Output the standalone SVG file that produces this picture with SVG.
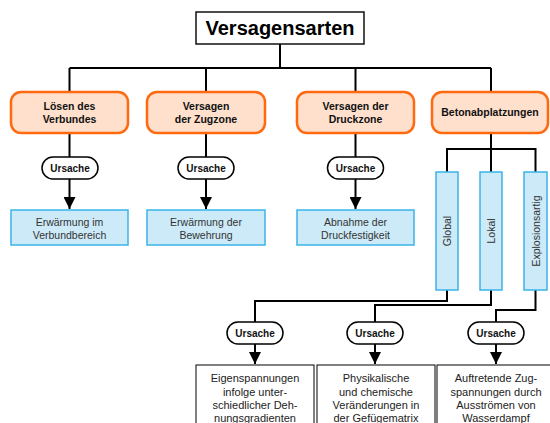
<svg xmlns="http://www.w3.org/2000/svg" width="550" height="423" viewBox="0 0 550 423">
<defs>
<style>
text{font-family:"Liberation Sans",Arial,sans-serif;text-anchor:middle}
.title{font-size:20px;font-weight:bold;fill:#000}
.cat rect{fill:#fee0cc;stroke:#ff6a10;stroke-width:2.5}
.cat text{font-size:10.5px;font-weight:bold;fill:#111}
.pill rect{fill:#fff;stroke:#000;stroke-width:1.5}
.pill text{font-size:10px;font-weight:bold;fill:#111}
.blue rect{fill:#cdeaf8;stroke:#3ab4e8;stroke-width:1.5}
.blue text{font-size:10.5px;fill:#333}
.res rect{fill:#fff;stroke:#000;stroke-width:1}
.res text{font-size:11px;fill:#222}
.con{fill:none;stroke:#000;stroke-width:2}
</style>
<marker id="ah" markerUnits="userSpaceOnUse" markerWidth="12" markerHeight="12" viewBox="0 0 12 12" refX="12" refY="6" orient="auto">
<path d="M0,0 L12,6 L0,12 Z" fill="#000"/>
</marker>
</defs>

<g id="connectors">
<path class="con" d="M280,44 V68 M69.5,68 H491 M69.5,68 V92 M206,68 V92 M355.5,68 V92 M491,68 V92"/>
<path class="con" d="M69.5,133 V157 M206,133 V157 M355.5,133 V157"/>
<path class="con" d="M69.5,179 V209" marker-end="url(#ah)"/>
<path class="con" d="M206,179 V209" marker-end="url(#ah)"/>
<path class="con" d="M355.5,179 V209" marker-end="url(#ah)"/>
<path class="con" d="M491,133 V149 M447,172 V149 H535.5 V172 M491,149 V172"/>
<path class="con" d="M447,290 V301 H255 V322 M491,290 V305 H375 V322 M535.5,290 V310 H496 V322"/>
<path class="con" d="M255,344 V364" marker-end="url(#ah)"/>
<path class="con" d="M375,344 V364" marker-end="url(#ah)"/>
<path class="con" d="M496,344 V364" marker-end="url(#ah)"/>
</g>

<g id="title">
<rect x="196" y="12" width="168" height="32" fill="#fff" stroke="#000" stroke-width="1.4"/>
<text class="title" x="280" y="35">Versagensarten</text>
</g>

<g id="cat1" class="cat">
<rect x="11" y="92" width="117" height="41" rx="10"/>
<text x="69.5" y="110">Lösen des</text>
<text x="69.5" y="123">Verbundes</text>
</g>
<g id="cat2" class="cat">
<rect x="147" y="92" width="118" height="41" rx="10"/>
<text x="206" y="110">Versagen</text>
<text x="206" y="123">der Zugzone</text>
</g>
<g id="cat3" class="cat">
<rect x="297" y="92" width="117" height="41" rx="10"/>
<text x="355.5" y="110">Versagen der</text>
<text x="355.5" y="123">Druckzone</text>
</g>
<g id="cat4" class="cat">
<rect x="432" y="92" width="116" height="41" rx="10"/>
<text x="490" y="116">Betonabplatzungen</text>
</g>

<g id="pill1" class="pill"><rect x="42" y="157" width="56" height="22" rx="11"/><text x="70" y="172">Ursache</text></g>
<g id="pill2" class="pill"><rect x="178" y="157" width="56" height="22" rx="11"/><text x="206" y="172">Ursache</text></g>
<g id="pill3" class="pill"><rect x="327.5" y="157" width="56" height="22" rx="11"/><text x="355.5" y="172">Ursache</text></g>

<g id="cause1" class="blue">
<rect x="11" y="210" width="117" height="35"/>
<text x="69.5" y="226">Erwärmung im</text>
<text x="69.5" y="239">Verbundbereich</text>
</g>
<g id="cause2" class="blue">
<rect x="147" y="210" width="118" height="35"/>
<text x="206" y="226">Erwärmung der</text>
<text x="206" y="239">Bewehrung</text>
</g>
<g id="cause3" class="blue">
<rect x="297" y="210" width="117" height="35"/>
<text x="355.5" y="226">Abnahme der</text>
<text x="355.5" y="239">Druckfestigkeit</text>
</g>

<g id="global" class="blue">
<rect x="436" y="172" width="22" height="118"/>
<text transform="translate(451,231) rotate(-90)">Global</text>
</g>
<g id="lokal" class="blue">
<rect x="480" y="172" width="22" height="118"/>
<text transform="translate(495,231) rotate(-90)">Lokal</text>
</g>
<g id="explosionsartig" class="blue">
<rect x="524" y="172" width="23" height="118"/>
<text transform="translate(539.5,231) rotate(-90)">Explosionsartig</text>
</g>

<g id="pill4" class="pill"><rect x="227" y="322" width="56" height="22" rx="11"/><text x="255" y="337">Ursache</text></g>
<g id="pill5" class="pill"><rect x="347" y="322" width="56" height="22" rx="11"/><text x="375" y="337">Ursache</text></g>
<g id="pill6" class="pill"><rect x="468" y="322" width="56" height="22" rx="11"/><text x="496" y="337">Ursache</text></g>

<g id="res1" class="res">
<rect x="196" y="365" width="118" height="70"/>
<text x="255" y="382">Eigenspannungen</text>
<text x="255" y="396">infolge unter-</text>
<text x="255" y="409">schiedlicher Deh-</text>
<text x="255" y="422">nungsgradienten</text>
</g>
<g id="res2" class="res">
<rect x="317" y="365" width="118" height="70"/>
<text x="376" y="382">Physikalische</text>
<text x="376" y="396">und chemische</text>
<text x="376" y="409">Veränderungen in</text>
<text x="376" y="422">der Gefügematrix</text>
</g>
<g id="res3" class="res">
<rect x="437" y="365" width="118" height="70"/>
<text x="496" y="382">Auftretende Zug-</text>
<text x="496" y="396">spannungen durch</text>
<text x="496" y="409">Ausströmen von</text>
<text x="496" y="422">Wasserdampf</text>
</g>
</svg>
